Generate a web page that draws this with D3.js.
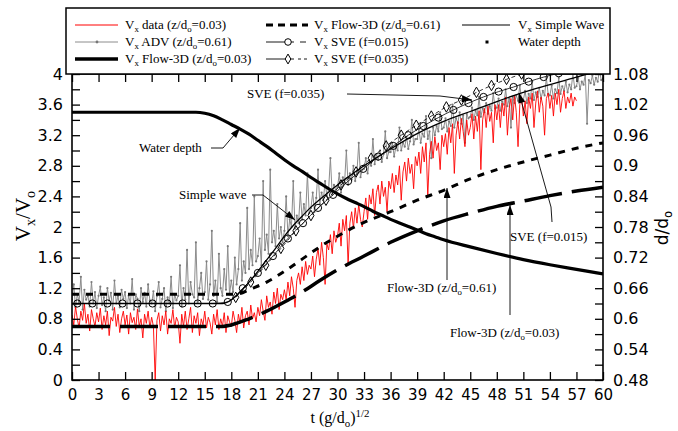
<!DOCTYPE html>
<html><head><meta charset="utf-8">
<script src="https://cdn.jsdelivr.net/npm/d3@7"></script>
<style>body{margin:0;background:#fff} svg{display:block}</style>
</head><body>
<svg id="c" width="678" height="431"></svg>
<script>
// ---------------- DATA ----------------
// Measured series sampled every 0.2 time units starting at t = 0
const redStep = 0.2;
const redData = [
0.85,0.72,0.96,0.8,0.68,0.9,0.78,1.0,0.74,0.86,0.64,0.92,0.8,0.7,0.88,
0.76,0.94,0.66,0.84,0.72,0.9,0.58,0.82,0.77,0.95,0.7,0.86,0.62,0.8,0.9,
0.72,0.85,0.6,0.88,0.75,0.82,0.66,0.93,0.7,0.8,0.55,0.86,0.74,0.9,0.68,
0.82,0.7,0.0,0.78,0.88,0.64,0.84,0.72,0.9,0.6,0.8,0.74,0.92,0.68,0.82,
0.76,0.48,0.86,0.7,0.9,0.66,0.8,0.95,0.62,0.84,0.74,0.88,0.58,0.8,0.72,
0.9,0.68,0.82,0.75,0.6,0.86,0.72,0.92,0.66,0.8,0.7,0.88,0.62,0.84,0.76,
0.7,0.9,0.78,0.62,0.86,0.74,0.95,0.68,0.84,0.9,0.72,0.98,0.8,0.88,0.76,
0.95,0.84,1.05,0.9,0.78,1.1,0.95,1.02,0.86,1.15,1.0,1.2,0.92,1.12,1.05,
1.18,1.05,1.28,1.1,1.35,1.2,0.95,1.3,1.4,1.25,1.48,1.3,1.55,1.38,1.5,
1.45,1.62,1.35,1.58,1.72,1.5,1.8,1.6,1.25,1.78,1.7,1.9,1.65,1.95,1.8,
1.88,2.05,1.75,2.1,1.95,2.15,1.5,2.05,2.2,1.98,2.25,2.05,2.3,2.1,2.0,
2.2,2.38,2.1,2.42,2.3,2.5,2.15,2.45,2.55,2.3,2.6,2.4,2.52,2.2,2.6,
2.5,2.7,2.45,2.68,2.55,2.8,2.35,2.72,2.85,2.6,2.9,2.7,2.82,2.5,2.92,
2.8,2.98,2.7,3.05,2.85,3.1,2.4,2.95,3.12,2.9,3.18,3.0,3.1,2.75,3.2,
3.05,3.22,2.95,3.3,3.1,3.35,2.7,3.2,3.38,3.15,3.42,3.25,3.05,3.4,3.2,
3.3,3.48,3.15,3.45,3.25,3.52,2.75,3.4,3.55,3.3,3.58,3.38,3.5,3.1,3.6,
3.4,3.6,3.3,3.62,3.45,3.7,3.2,3.55,3.68,3.4,3.72,3.5,3.05,3.6,3.7,
3.45,3.65,3.35,3.7,3.55,3.75,3.3,3.62,3.78,3.5,3.7,3.58,3.2,3.68,3.75,
3.55,3.72,3.45,3.75,3.6,3.8,3.5,3.68,3.78,3.55,3.7,3.62,3.75,3.58,3.7,
3.65];
const advStep = 0.2;
const advData = [
1.05,1.25,0.95,1.12,1.02,1.35,0.92,1.18,1.05,1.1,0.96,1.28,1.0,1.15,0.94,
1.1,1.22,0.98,1.08,0.9,1.2,1.04,1.14,0.92,1.3,1.0,1.1,0.95,1.18,1.06,
1.15,0.94,1.1,1.0,1.32,0.92,1.12,1.06,0.9,1.2,1.02,1.14,0.96,1.25,1.04,
1.0,1.16,0.9,1.1,1.28,0.95,1.06,1.2,0.9,1.08,1.0,1.35,0.94,1.12,1.04,
1.1,1.5,0.96,1.2,1.05,1.7,1.0,1.28,1.12,1.08,1.8,1.02,1.2,1.4,1.06,
1.15,1.55,1.05,1.25,1.95,1.1,1.3,1.02,1.65,1.2,1.1,1.45,1.18,1.75,1.12,
1.3,1.15,1.6,1.25,1.45,2.05,1.3,1.55,1.4,2.25,1.45,1.7,1.5,2.4,1.55,
1.62,1.85,1.5,2.6,1.7,1.9,1.65,2.75,1.8,1.95,1.75,2.3,1.85,2.0,1.8,
1.95,2.4,1.88,2.1,2.0,2.6,1.98,2.15,2.05,2.45,2.1,2.3,2.15,2.7,2.18,
2.25,2.45,2.2,2.38,2.75,2.3,2.45,2.35,2.6,2.4,2.5,2.9,2.42,2.55,2.48,
2.52,2.7,2.45,2.65,2.58,3.0,2.55,2.7,2.62,2.8,2.6,2.72,3.1,2.65,2.75,
2.76,2.9,2.7,2.85,2.8,3.15,2.82,2.95,2.88,3.0,2.85,2.95,3.25,2.9,2.98,
2.98,3.1,2.92,3.05,3.0,3.3,3.0,3.1,3.05,3.18,3.02,3.12,3.4,3.08,3.15,
3.15,3.28,3.1,3.22,3.18,3.45,3.15,3.25,2.9,3.3,3.2,3.32,3.25,3.5,3.28,
3.3,3.42,3.25,3.38,3.32,3.6,3.3,3.42,3.36,3.5,3.35,3.46,3.1,3.48,3.42,
3.44,3.56,3.4,3.52,3.46,3.7,3.44,3.55,3.5,3.62,3.48,3.58,3.52,3.75,3.55,
3.56,3.68,3.52,3.64,3.6,3.8,3.58,3.68,3.3,3.7,3.62,3.72,3.65,3.85,3.66,
3.66,3.78,3.62,3.74,3.68,3.9,3.66,3.76,3.7,3.82,3.68,3.78,3.72,3.95,3.74,
3.72,3.85,3.68,3.8,3.75,3.95,3.74,3.84,3.78,3.9,3.76,3.86,3.8,4.0,3.82,
3.84,3.95,3.8,3.9,3.86,4.0,3.35,3.92,3.88,3.98,3.86,3.95,3.9,4.05,3.92,
3.94];

const simpleT = [0,17,18,19,20,21,22,23,24,25,26,27,28,30,33,36,39,42,45,48,51,54,57,60];
const simpleV = [1.0,1.0,1.05,1.15,1.28,1.42,1.57,1.72,1.88,2.02,2.14,2.26,2.36,2.55,2.80,3.02,3.22,3.38,3.51,3.64,3.76,3.86,3.96,4.05];

const flow61T = [0,18,19,20,22,24,26,28,30,33,36,39,42,45,48,51,54,57,60];
const flow61V = [1.12,1.12,1.13,1.18,1.28,1.42,1.58,1.74,1.88,2.06,2.20,2.35,2.48,2.63,2.75,2.85,2.94,3.03,3.10];

const flow03T = [0,17,18,20,22,24,26,28,30,33,36,39,42,45,48,51,54,57,60];
const flow03V = [0.70,0.70,0.72,0.80,0.90,1.02,1.15,1.30,1.44,1.62,1.80,1.95,2.08,2.18,2.27,2.34,2.41,2.47,2.52];

const sve015T = [0.6,2.3,4.0,5.7,7.4,9.1,10.8,12.5,14.2,15.9,17.6,19.3,21.0,22.7,24.4,26.1,27.8,29.5,31.2,32.9,34.6,36.3,38.0,39.7,41.4,43.1,44.8,46.5,48.2,49.9,51.6,53.3,55.0];
const sve015V = [1.0,1.0,1.0,1.0,1.0,1.0,1.0,1.0,1.0,1.0,1.02,1.2,1.4,1.62,1.85,2.05,2.25,2.42,2.6,2.76,2.92,3.06,3.2,3.32,3.43,3.53,3.62,3.7,3.77,3.83,3.9,3.96,4.01];

const sve035T = [18.5,20.2,21.9,23.6,25.3,27.0,28.7,30.4,32.1,33.8,35.5,37.2,38.9,40.6,42.3,44.0,45.7,47.4,49.1,50.8];
const sve035V = [1.08,1.28,1.5,1.72,1.95,2.15,2.35,2.55,2.72,2.9,3.06,3.2,3.33,3.45,3.57,3.66,3.76,3.85,3.93,4.0];

const depthT = [0,14,15,16,17,18,19,20,21,22,23,24,25,26,27,28,29,30,31,32,33,34,35,36,37,38,39,40,41,42,45,48,51,54,57,60];
const depthV = [1.005,1.005,1.003,0.998,0.99,0.981,0.972,0.962,0.95,0.938,0.925,0.912,0.9,0.889,0.877,0.866,0.855,0.845,0.836,0.828,0.82,0.811,0.803,0.795,0.788,0.781,0.774,0.767,0.761,0.755,0.741,0.728,0.716,0.706,0.697,0.688];

const xTicks = [0,3,6,9,12,15,18,21,24,27,30,33,36,39,42,45,48,51,54,57,60];
const yLeftTicks = [0,0.2,0.4,0.6,0.8,1,1.2,1.4,1.6,1.8,2,2.2,2.4,2.6,2.8,3,3.2,3.4,3.6,3.8,4];
const yLeftLabels = [0,0.4,0.8,1.2,1.6,2,2.4,2.8,3.2,3.6,4];
const yRightTicks = [0.48,0.51,0.54,0.57,0.6,0.63,0.66,0.69,0.72,0.75,0.78,0.81,0.84,0.87,0.9,0.93,0.96,0.99,1.02,1.05,1.08];
const yRightLabels = [0.48,0.54,0.6,0.66,0.72,0.78,0.84,0.9,0.96,1.02,1.08];

// ---------------- CHART ----------------
const svg = d3.select('#c');
const L = 72, R = 603, T = 74, B = 380;
const x = d3.scaleLinear().domain([0,60]).range([L,R]);
const yL = d3.scaleLinear().domain([0,4]).range([B,T]);
const yR = d3.scaleLinear().domain([0.48,1.08]).range([B,T]);
const SERIF = "'Liberation Serif','Times New Roman',serif";
const SANS = "'DejaVu Sans',sans-serif";

const defs = svg.append('defs');
defs.append('clipPath').attr('id','clip').append('rect').attr('x',L).attr('y',T).attr('width',R-L).attr('height',B-T);
defs.append('marker').attr('id','arr').attr('viewBox','0 0 10 7').attr('refX',10).attr('refY',3.5)
  .attr('markerWidth',11).attr('markerHeight',7).attr('markerUnits','userSpaceOnUse').attr('orient','auto')
  .append('path').attr('d','M0,0L10,3.5L0,7Z').attr('fill','#000');

const plot = svg.append('g').attr('clip-path','url(#clip)');

const idxLine = (step) => d3.line().x((d,i)=>x(i*step)).y(d=>yL(d));
const pairLine = (sc) => d3.line().x(d=>x(d[0])).y(d=>sc(d[1])).curve(d3.curveMonotoneX);
const zip = (a,b) => a.map((v,i)=>[v,b[i]]);

// ADV grey
plot.append('path').attr('d', idxLine(advStep)(advData)).attr('fill','none').attr('stroke','#8c8c8c').attr('stroke-width',1);
plot.append('g').selectAll('circle').data(advData).join('circle')
  .attr('cx',(d,i)=>x(i*advStep)).attr('cy',d=>yL(d)).attr('r',1.1).attr('fill','#7a7a7a');
// red data
plot.append('path').attr('d', idxLine(redStep)(redData)).attr('fill','none').attr('stroke','#ff0000').attr('stroke-width',0.9);

// Flow-3D lines
plot.append('path').attr('d', pairLine(yL)(zip(flow03T,flow03V))).attr('fill','none').attr('stroke','#000')
  .attr('stroke-width',3.5).attr('stroke-dasharray','38,10');
plot.append('path').attr('d', pairLine(yL)(zip(flow61T,flow61V))).attr('fill','none').attr('stroke','#000')
  .attr('stroke-width',3).attr('stroke-dasharray','7,7');

// Simple wave
plot.append('path').attr('d', pairLine(yL)(zip(simpleT,simpleV))).attr('fill','none').attr('stroke','#000').attr('stroke-width',1.3);

// SVE f=0.015
plot.append('path').attr('d', pairLine(yL)(zip(sve015T,sve015V))).attr('fill','none').attr('stroke','#000').attr('stroke-width',0.8);
plot.append('g').selectAll('circle').data(zip(sve015T,sve015V)).join('circle')
  .attr('cx',d=>x(d[0])).attr('cy',d=>yL(d[1])).attr('r',3.6).attr('fill','none').attr('stroke','#000').attr('stroke-width',1);
// SVE f=0.035
plot.append('path').attr('d', pairLine(yL)(zip(sve035T,sve035V))).attr('fill','none').attr('stroke','#000')
  .attr('stroke-width',0.8).attr('stroke-dasharray','4,3');
plot.append('g').selectAll('path').data(zip(sve035T,sve035V)).join('path')
  .attr('d', d3.symbol(d3.symbolDiamond, 32)).attr('transform',d=>`translate(${x(d[0])},${yL(d[1])})`)
  .attr('fill','none').attr('stroke','#000').attr('stroke-width',1);

// Water depth
plot.append('path').attr('d', pairLine(yR)(zip(depthT,depthV))).attr('fill','none').attr('stroke','#000').attr('stroke-width',3.2);

// ---------- axes ----------
function styleAxis(g, size){
  g.selectAll('.domain').remove();
  g.selectAll('line').attr('stroke','#000').attr('stroke-width',1.3);
  g.selectAll('text').attr('font-family',SANS).attr('font-size',size).attr('fill','#000');
}
const fmt = d => String(+d.toFixed(2));
svg.append('g').attr('transform',`translate(0,${B})`)
  .call(d3.axisBottom(x).tickValues(xTicks).tickSizeInner(-8).tickSizeOuter(0).tickPadding(9).tickFormat(fmt))
  .call(g=>styleAxis(g,15));
svg.append('g').attr('transform',`translate(0,${T})`)
  .call(d3.axisTop(x).tickValues(xTicks).tickSizeInner(-8).tickSizeOuter(0).tickFormat(''))
  .call(g=>styleAxis(g,15));
svg.append('g').attr('transform',`translate(${L},0)`)
  .call(d3.axisLeft(yL).tickValues(yLeftTicks).tickSizeInner(-8).tickSizeOuter(0).tickPadding(9)
    .tickFormat(d => yLeftLabels.some(v=>Math.abs(v-d)<1e-6) ? fmt(d) : ''))
  .call(g=>styleAxis(g,16));
svg.append('g').attr('transform',`translate(${R},0)`)
  .call(d3.axisRight(yR).tickValues(yRightTicks).tickSizeInner(-8).tickSizeOuter(0).tickPadding(10)
    .tickFormat(d => yRightLabels.some(v=>Math.abs(v-d)<1e-6) ? fmt(d) : ''))
  .call(g=>styleAxis(g,16));
svg.append('rect').attr('x',L).attr('y',T).attr('width',R-L).attr('height',B-T)
  .attr('fill','none').attr('stroke','#000').attr('stroke-width',1.6);

// rich text helper
function rich(sel, parts, size){
  let shift = 0;
  parts.forEach(p=>{
    const target = p.sub ? size*0.25 : (p.sup ? -size*0.35 : 0);
    const ts = sel.append('tspan').text(p.t).attr('dy', target-shift);
    if(p.sub||p.sup) ts.attr('font-size', size*0.68);
    shift = target;
  });
  return sel;
}

// axis titles
rich(svg.append('text').attr('x',340).attr('y',423).attr('text-anchor','middle')
  .attr('font-family',SERIF).attr('font-size',16),
  [{t:'t (g/d'},{t:'o',sub:true},{t:')'},{t:'1/2',sup:true}],16);
rich(svg.append('text').attr('transform','translate(30,216) rotate(-90)').attr('text-anchor','middle')
  .attr('font-family',SERIF).attr('font-size',21),
  [{t:'V'},{t:'x',sub:true},{t:'/V'},{t:'o',sub:true}],21);
rich(svg.append('text').attr('transform','translate(668,228) rotate(-90)').attr('text-anchor','middle')
  .attr('font-family',SANS).attr('font-size',17),
  [{t:'d/d'},{t:'o',sub:true}],17);

// ---------- annotations ----------
const ann = svg.append('g').attr('font-family',SERIF).attr('font-size',13).attr('fill','#000');
function note(xp, yp, parts){ return rich(ann.append('text').attr('x',xp).attr('y',yp), parts, 13); }
function arrow(pts){ ann.append('path').attr('d', d3.line()(pts)).attr('fill','none').attr('stroke','#000').attr('stroke-width',0.9).attr('marker-end','url(#arr)'); }

note(139,152,[{t:'Water depth'}]);
arrow([[211,148],[223,148],[240,128]]);
note(179,199,[{t:'Simple wave'}]);
arrow([[252,195],[263,195],[295,220]]);
note(247,98,[{t:'SVE (f=0.035)'}]);
arrow([[347,94],[440,96],[472,100]]);
note(510,241,[{t:'SVE (f=0.015)'}]);
arrow([[552,222],[551,207],[519,93]]);
note(387,292,[{t:'Flow-3D (z/d'},{t:'o',sub:true},{t:'=0.61)'}]);
arrow([[447,280],[447,188]]);
note(450,337,[{t:'Flow-3D (z/d'},{t:'o',sub:true},{t:'=0.03)'}]);
arrow([[510,315],[510,205]]);

// ---------- legend ----------
const lg = svg.append('g');
lg.append('rect').attr('x',66).attr('y',8).attr('width',544).attr('height',66).attr('fill','#fff').attr('stroke','#000').attr('stroke-width',1.5);
const rows = [25,42,59];
const lt = (xp, yp, parts) => rich(lg.append('text').attr('x',xp).attr('y',yp+4).attr('font-family',SERIF).attr('font-size',13), parts, 13);
const ln = (x1,x2,yp,stroke,w,dash) => { const l = lg.append('line').attr('x1',x1).attr('x2',x2).attr('y1',yp).attr('y2',yp).attr('stroke',stroke).attr('stroke-width',w); if(dash) l.attr('stroke-dasharray',dash); return l; };
// col 1
ln(75,118,rows[0],'#ff0000',1);
lt(125,rows[0],[{t:'V'},{t:'x',sub:true},{t:' data (z/d'},{t:'o',sub:true},{t:'=0.03)'}]);
ln(75,118,rows[1],'#8c8c8c',1);
lg.append('circle').attr('cx',97).attr('cy',rows[1]).attr('r',1.4).attr('fill','#777');
lt(125,rows[1],[{t:'V'},{t:'x',sub:true},{t:' ADV (z/d'},{t:'o',sub:true},{t:'=0.61)'}]);
ln(75,118,rows[2],'#000',3.5);
lt(125,rows[2],[{t:'V'},{t:'x',sub:true},{t:' Flow-3D (z/d'},{t:'o',sub:true},{t:'=0.03)'}]);
// col 2
ln(266,308,rows[0],'#000',3,'7,5');
lt(314,rows[0],[{t:'V'},{t:'x',sub:true},{t:' Flow-3D (z/d'},{t:'o',sub:true},{t:'=0.61)'}]);
ln(266,294,rows[1],'#000',0.9);
lg.append('circle').attr('cx',288).attr('cy',rows[1]).attr('r',3.3).attr('fill','#fff').attr('stroke','#000');
ln(300,306,rows[1],'#000',0.9);
lt(314,rows[1],[{t:'V'},{t:'x',sub:true},{t:' SVE (f=0.015)'}]);
ln(266,294,rows[2],'#000',0.9);
lg.append('path').attr('d',d3.symbol(d3.symbolDiamond,28)).attr('transform',`translate(288,${rows[2]})`).attr('fill','#fff').attr('stroke','#000');
ln(298,301,rows[2],'#000',0.9);
ln(304,307,rows[2],'#000',0.9);
lt(314,rows[2],[{t:'V'},{t:'x',sub:true},{t:' SVE (f=0.035)'}]);
// col 3
ln(462,510,rows[0],'#000',1.2);
lt(518,rows[0],[{t:'V'},{t:'x',sub:true},{t:' Simple Wave'}]);
lg.append('rect').attr('x',485.5).attr('y',rows[1]-1.5).attr('width',3).attr('height',3).attr('fill','#000');
lt(518,rows[1],[{t:'Water depth'}]);
</script>
</body></html>
